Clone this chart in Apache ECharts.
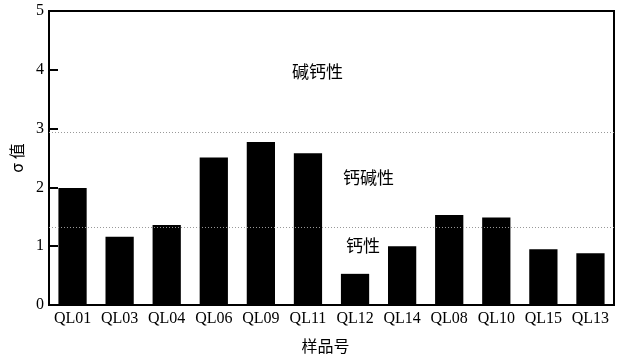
<!DOCTYPE html>
<html>
<head>
<meta charset="utf-8">
<script src="https://cdn.jsdelivr.net/npm/echarts@6/dist/echarts.min.js"></script>
<style>
  html, body { margin: 0; padding: 0; background: #fff; }
  #chart { width: 617px; height: 356px; }
</style>
</head>
<body>
<div id="chart"></div>
<script>
// Sample numbers along the x axis
const samples = ['QL01', 'QL03', 'QL04', 'QL06', 'QL09', 'QL11', 'QL12', 'QL14', 'QL08', 'QL10', 'QL15', 'QL13'];
// σ value of each sample
const sigmaValues = [1.99, 1.16, 1.36, 2.51, 2.77, 2.58, 0.53, 1.00, 1.53, 1.49, 0.95, 0.88];
// Boundaries between the series fields (dotted lines)
const fieldBounds = [1.32, 2.93];
// Field names, from top to bottom
const fieldNames = ['碱钙性', '钙碱性', '钙性'];
// Value-axis ticks
const yTicks = [0, 1, 2, 3, 4, 5];

const serif = '"Liberation Serif", "Times New Roman", serif';
const cjk = '"Noto Sans CJK SC", sans-serif';

const chart = echarts.init(document.getElementById('chart'), null, { renderer: 'canvas' });

chart.setOption({
  animation: false,
  backgroundColor: '#fff',
  grid: {
    left: 49, right: 3, top: 11, bottom: 51,
    outerBoundsMode: 'none',
    containLabel: false,
    show: true, borderColor: '#000', borderWidth: 2, backgroundColor: 'transparent'
  },
  xAxis: {
    type: 'category',
    data: samples,
    boundaryGap: true,
    name: '样品号',
    nameLocation: 'middle',
    nameGap: 33,
    nameTextStyle: { fontFamily: cjk, fontSize: 16, color: '#000', padding: [0, 12, 0, 0] },
    axisLine: { lineStyle: { color: '#000', width: 2 } },
    axisTick: { inside: true, length: 8, lineStyle: { color: '#000', width: 2 } },
    axisLabel: { fontFamily: serif, fontSize: 16, color: '#000', margin: 6, interval: 0 },
    splitLine: { show: false }
  },
  yAxis: {
    type: 'value',
    min: yTicks[0],
    max: yTicks[yTicks.length - 1],
    interval: 1,
    name: 'σ 值',
    nameLocation: 'middle',
    nameRotate: 90,
    nameGap: 24,
    nameTextStyle: { fontFamily: cjk, fontSize: 16, color: '#000' },
    axisLine: { show: true, lineStyle: { color: '#000', width: 2 } },
    axisTick: { show: true, inside: true, length: 9, lineStyle: { color: '#000', width: 2 } },
    axisLabel: { fontFamily: serif, fontSize: 16, color: '#000', margin: 5 },
    splitLine: { show: false }
  },
  graphic: [
    { type: 'text', left: 292, top: 63, style: { text: fieldNames[0], font: '17px ' + cjk, fill: '#000' } },
    { type: 'text', left: 343, top: 169, style: { text: fieldNames[1], font: '17px ' + cjk, fill: '#000' } },
    { type: 'text', left: 346, top: 237, style: { text: fieldNames[2], font: '17px ' + cjk, fill: '#000' } }
  ],
  series: [{
    type: 'bar',
    data: sigmaValues,
    barCategoryGap: '40%',
    itemStyle: { color: '#000' },
    markLine: {
      silent: true,
      symbol: 'none',
      label: { show: false },
      lineStyle: { color: '#999', type: [1, 2], width: 1 },
      data: fieldBounds.map(v => ({ yAxis: v }))
    }
  }]
});
</script>
</body>
</html>
